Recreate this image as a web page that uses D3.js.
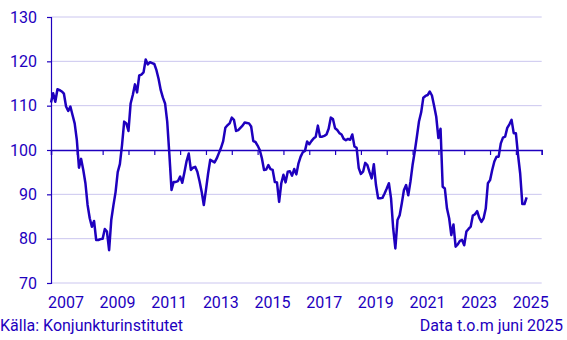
<!DOCTYPE html>
<html><head><meta charset="utf-8">
<script src="https://cdn.jsdelivr.net/npm/d3@7"></script>
<style>body{margin:0;background:#fff;} svg{display:block;font-family:Roboto, "Noto Sans", sans-serif;}</style>
</head><body><svg id="c" width="567" height="340"></svg>
<script>
// Monthly values, Jan 2007 .. Jun 2025
const startYear = 2007;
const values = [
  110.7, 112.8, 110.9, 113.7, 113.5, 113.2, 112.7, 109.8, 108.8, 109.8, 107.9, 106.0, // 2007
  102.3, 96.0, 98.0, 95.5, 92.5, 87.6, 84.6, 82.7, 84.0, 79.7, 79.7, 79.9,           // 2008
  80.0, 82.2, 81.6, 77.4, 84.2, 87.5, 90.5, 95.0, 96.8, 101.1, 106.4, 106.0,        // 2009
  104.3, 110.5, 112.4, 114.8, 113.0, 116.8, 117.0, 117.5, 120.4, 119.3, 119.8, 119.6, // 2010
  119.4, 118.0, 116.0, 113.5, 111.8, 110.5, 106.4, 99.0, 91.0, 92.8, 92.8, 93.0,     // 2011
  94.0, 92.6, 95.0, 97.5, 99.2, 95.5, 96.0, 96.2, 95.1, 93.0, 90.6, 87.6,           // 2012
  91.0, 94.7, 97.8, 97.5, 97.2, 98.1, 99.3, 100.5, 102.0, 105.0, 105.6, 106.0,      // 2013
  107.3, 106.8, 104.3, 104.5, 105.0, 105.5, 106.2, 106.1, 106.0, 105.3, 102.0, 101.8, // 2014
  101.0, 100.0, 98.1, 95.5, 95.6, 96.6, 95.7, 95.5, 92.8, 92.7, 88.3, 92.5,         // 2015
  94.4, 92.7, 95.1, 95.2, 94.2, 95.7, 94.5, 97.0, 98.5, 99.5, 99.8, 101.9,          // 2016
  101.3, 102.0, 102.6, 103.0, 105.5, 103.0, 103.0, 103.2, 103.5, 104.8, 107.3, 107.0, // 2017
  104.9, 104.5, 103.8, 103.5, 102.5, 102.2, 102.5, 102.3, 103.5, 100.8, 100.5, 95.9, // 2018
  94.6, 95.1, 97.1, 96.6, 95.0, 93.6, 96.8, 92.1, 89.1, 89.1, 89.2, 90.2,           // 2019
  91.3, 92.5, 89.1, 82.3, 77.8, 84.2, 85.3, 88.0, 91.0, 92.1, 89.8, 92.8,           // 2020
  96.6, 99.6, 103.0, 106.5, 108.5, 111.8, 112.2, 112.4, 113.2, 112.3, 110.0, 107.5, // 2021
  102.7, 104.8, 91.7, 91.3, 86.8, 84.6, 80.8, 83.2, 78.2, 78.7, 79.5, 79.7,         // 2022
  78.5, 81.6, 82.2, 82.7, 85.2, 85.5, 86.2, 84.7, 83.8, 84.6, 86.8, 92.5,           // 2023
  93.2, 95.5, 97.4, 98.5, 98.5, 101.5, 102.8, 103.0, 105.0, 105.8, 106.8, 103.8,    // 2024
  103.8, 98.9, 94.7, 87.8, 87.8, 89.3                                               // 2025
];
const yTicks = [70, 80, 90, 100, 110, 120, 130];
const xTickYears = d3.range(2007, 2027);
const xLabelYears = [2007, 2009, 2011, 2013, 2015, 2017, 2019, 2021, 2023, 2025];
const sourceText = "Källa: Konjunkturinstitutet";
const noteText = "Data t.o.m juni 2025";

const blue = "#1E00BE", gridCol = "#CBC6EF";
const svg = d3.select("#c");
const x = d3.scaleLinear().domain([2007, 2026]).range([51, 541.7]);
const y = d3.scaleLinear().domain([70, 130]).range([283, 17]);

// gridlines
svg.append("g").selectAll("line").data(yTicks.filter(d => d !== 100)).join("line")
  .attr("x1", x(2007)).attr("x2", x(2026))
  .attr("y1", d => y(d)).attr("y2", d => y(d))
  .attr("stroke", gridCol).attr("stroke-width", 1);

// y axis
const ya = svg.append("g").attr("transform", `translate(${x(2007)},0)`)
  .call(d3.axisLeft(y).tickValues(yTicks).tickSize(4).tickPadding(10));
ya.select(".domain").attr("stroke", blue).attr("stroke-width", 1.2);
ya.selectAll(".tick line").attr("stroke", blue).attr("stroke-width", 1.2);
ya.selectAll(".tick text").attr("fill", blue).attr("font-size", 16).attr("font-family", "Roboto");

// baseline 100 with year ticks
const xa = svg.append("g").attr("transform", `translate(0,${y(100)})`)
  .call(d3.axisBottom(x).tickValues(xTickYears).tickSize(5).tickFormat(""));
xa.select(".domain").attr("stroke", blue).attr("stroke-width", 1.4);
xa.selectAll(".tick line").attr("stroke", blue).attr("stroke-width", 1.2);

// x labels (centered on year)
svg.append("g").selectAll("text").data(xLabelYears).join("text")
  .attr("x", d => x(d + 0.5) + 2).attr("y", 308)
  .attr("text-anchor", "middle").attr("fill", blue)
  .attr("font-size", 16).text(d => d);

// line
const line = d3.line()
  .x((d, i) => x(startYear + i / 12))
  .y(d => y(d));
svg.append("path").datum(values)
  .attr("d", line).attr("fill", "none")
  .attr("stroke", blue).attr("stroke-width", 2.5)
  .attr("stroke-linejoin", "round");

// footer
svg.append("text").attr("x", 0).attr("y", 331).attr("fill", blue)
  .attr("font-size", 16).text(sourceText);
svg.append("text").attr("x", 563).attr("y", 331).attr("text-anchor", "end").attr("fill", blue)
  .attr("font-size", 16).text(noteText);
</script></body></html>
